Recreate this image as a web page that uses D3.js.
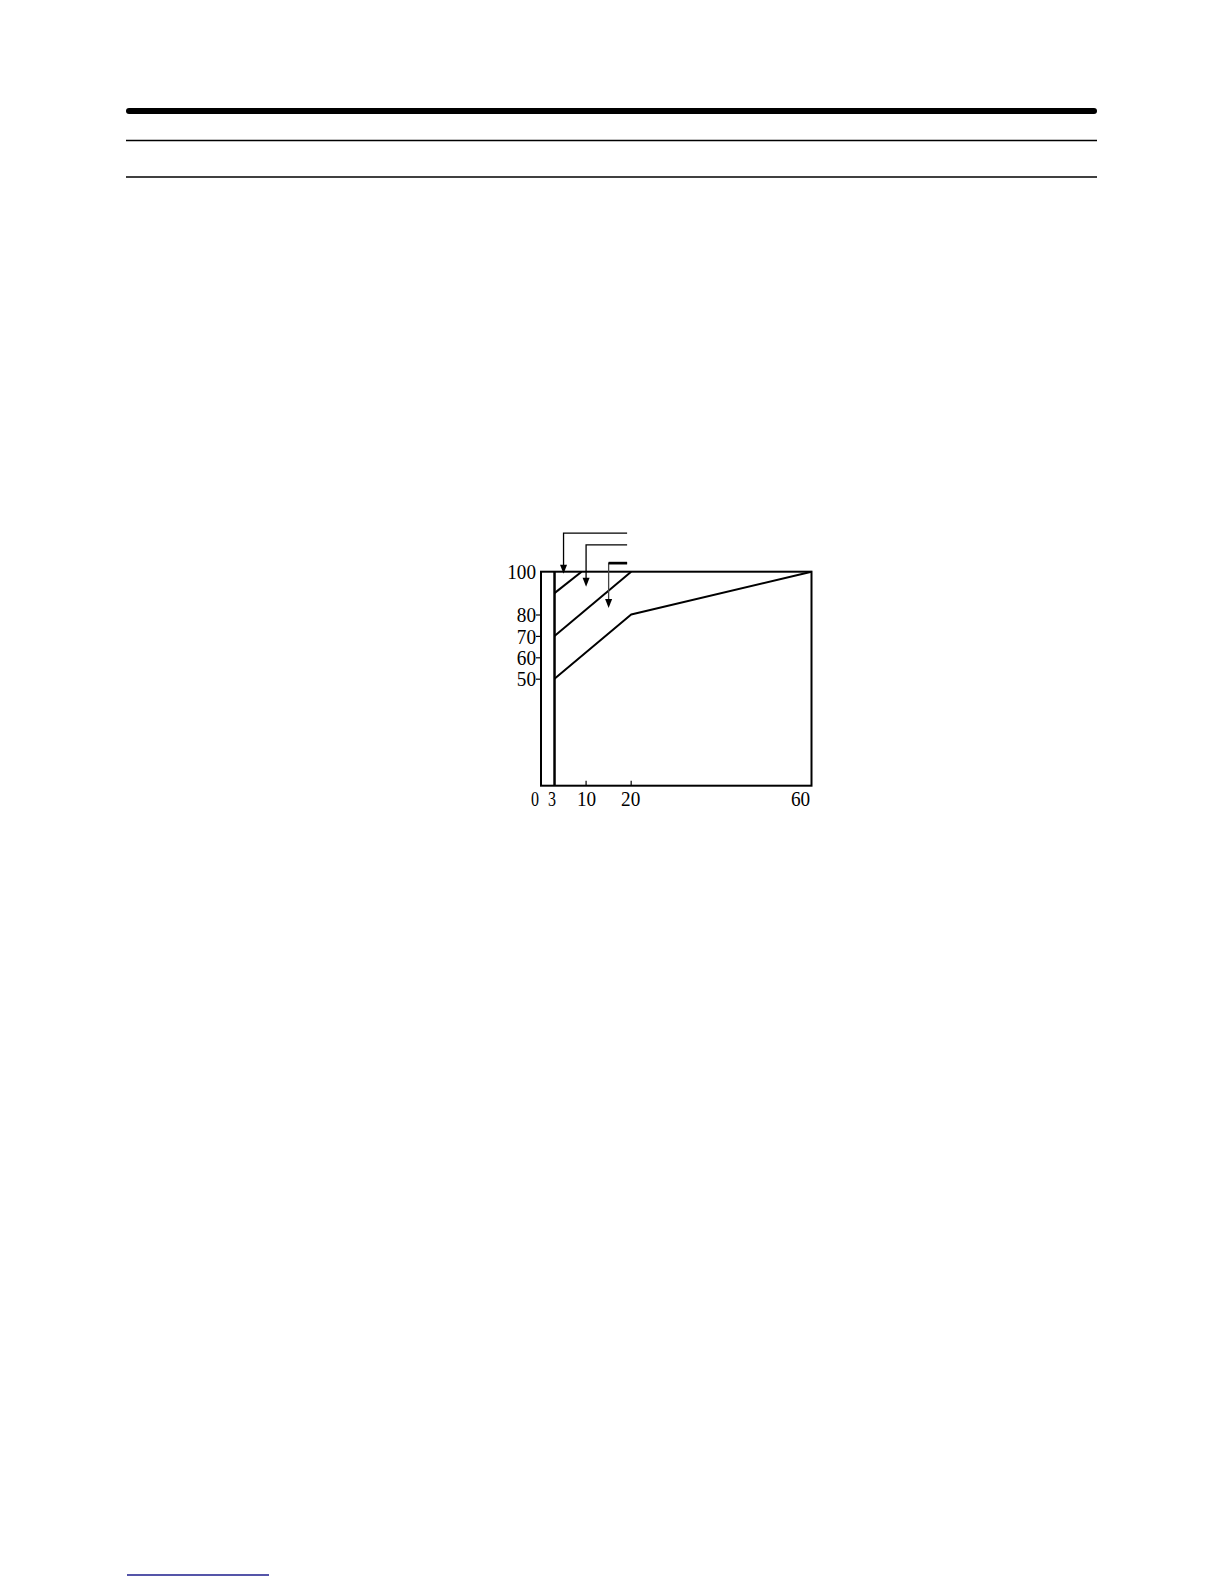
<!DOCTYPE html>
<html>
<head>
<meta charset="utf-8">
<script src="https://cdn.jsdelivr.net/npm/d3@7"></script>
<style>
  html, body { margin: 0; padding: 0; background: #fff; }
  svg text { font-family: "Liberation Serif", "DejaVu Serif", serif; fill: #000; }
</style>
</head>
<body>
<svg id="page" width="1224" height="1584"></svg>
<script>
// values
const xTicks = [0, 3, 10, 20, 60];
const xInnerTicks = [10, 20];
const yTicks = [50, 60, 70, 80, 100];
const startX = 3; // vertical start line
// the three curves (x, y)
const curveTop = [[3, 90], [9, 100]];
const curveMid = [[3, 70], [20, 100]];
const curveLow = [[3, 50], [20, 80], [60, 100]];
// call-out leaders: x of the drop, level of the bar, where the arrow stops
const leaderX = [5, 10, 15];
const leaderLevel = [118, 112.5, 104];
const leaderTip = [99, 93, 83];
const leaderEnd = 19.1;

const DIGIT_W = 9.6; // narrow mincho-like digits

const svg = d3.select("#page");

// page rules (header)
const rules = svg.append("g");
rules.append("line").attr("x1", 129).attr("x2", 1094).attr("y1", 111).attr("y2", 111)
  .attr("stroke", "#000").attr("stroke-width", 6).attr("stroke-linecap", "round");
rules.append("line").attr("x1", 126).attr("x2", 1097).attr("y1", 140.5).attr("y2", 140.5)
  .attr("stroke", "#000").attr("stroke-width", 1.5);
rules.append("line").attr("x1", 126).attr("x2", 1097).attr("y1", 177).attr("y2", 177)
  .attr("stroke", "#000").attr("stroke-width", 1.5);
// footnote rule
rules.append("line").attr("x1", 127).attr("x2", 269).attr("y1", 1575).attr("y2", 1575)
  .attr("stroke", "#1c1c8c").attr("stroke-width", 1.5);

// chart
const x = d3.scaleLinear().domain([0, 60]).range([541, 811.5]);
const y = d3.scaleLinear().domain([0, 100]).range([785.7, 571.7]);

const chart = svg.append("g");

// left axis with short outward ticks
const yAxis = chart.append("g")
  .attr("transform", `translate(${x(0)},0)`)
  .call(d3.axisLeft(y).tickValues(yTicks).tickSize(5).tickPadding(0));
yAxis.select(".domain").remove();
yAxis.selectAll(".tick line").attr("stroke", "#000").attr("stroke-width", 1.2)
  .attr("display", d => d === 100 ? "none" : null);
yAxis.selectAll(".tick text").attr("font-size", 21).attr("font-family", "Liberation Serif")
  .attr("dy", "0.34em")
  .attr("textLength", d => String(d).length * DIGIT_W)
  .attr("lengthAdjust", "spacingAndGlyphs");

// bottom axis labels (0, 3 and 60 sit a little left of their positions)
const xShift = { 0: -6.5, 3: -3, 10: 0, 20: -1, 60: -11.5 };
const xAxis = chart.append("g")
  .attr("transform", `translate(0,${y(0)})`)
  .call(d3.axisBottom(x).tickValues(xTicks).tickSize(0).tickPadding(5));
xAxis.select(".domain").remove();
xAxis.selectAll(".tick text").attr("font-size", 22).attr("font-family", "Liberation Serif")
  .attr("text-anchor", "middle")
  .attr("dx", d => xShift[d])
  .attr("textLength", d => String(d).length * (d < 10 ? 8 : DIGIT_W))
  .attr("lengthAdjust", "spacingAndGlyphs");

// inward ticks at the bottom
chart.selectAll("line.itick").data(xInnerTicks).join("line")
  .attr("class", "itick")
  .attr("x1", d => x(d)).attr("x2", d => x(d))
  .attr("y1", y(0)).attr("y2", y(0) - 5)
  .attr("stroke", "#000").attr("stroke-width", 1.2);

// frame
chart.append("rect")
  .attr("x", x(0)).attr("y", y(100))
  .attr("width", x(60) - x(0)).attr("height", y(0) - y(100))
  .attr("fill", "none").attr("stroke", "#000").attr("stroke-width", 2);

// start line at x = 3
chart.append("line")
  .attr("x1", x(startX)).attr("x2", x(startX))
  .attr("y1", y(100)).attr("y2", y(0))
  .attr("stroke", "#000").attr("stroke-width", 2.5);

// curves
const line = d3.line().x(d => x(d[0])).y(d => y(d[1]));
chart.selectAll("path.curve").data([curveTop, curveMid, curveLow]).join("path")
  .attr("class", "curve")
  .attr("d", line)
  .attr("fill", "none").attr("stroke", "#000").attr("stroke-width", 2)
  .attr("stroke-linejoin", "round");

// call-out leaders with arrows
const leaders = leaderX.map((lx, i) => ({ lx, level: leaderLevel[i], tip: leaderTip[i], i }));
const lg = chart.selectAll("g.leader").data(leaders).join("g").attr("class", "leader");
lg.append("path")
  .attr("d", d => `M${x(leaderEnd)},${y(d.level)}H${x(d.lx)}V${y(d.tip) - 8}`)
  .attr("fill", "none")
  .attr("stroke", d => d.i === 2 ? "#444" : "#000")
  .attr("stroke-width", 1.3);
// thicker stub on the last leader bar
lg.filter(d => d.i === 2).append("line")
  .attr("x1", d => x(d.lx)).attr("x2", x(leaderEnd))
  .attr("y1", d => y(d.level)).attr("y2", d => y(d.level))
  .attr("stroke", "#000").attr("stroke-width", 2.7);
lg.append("path")
  .attr("d", d => `M${x(d.lx) - 3.5},${y(d.tip) - 9}L${x(d.lx) + 3.5},${y(d.tip) - 9}L${x(d.lx)},${y(d.tip)}Z`)
  .attr("fill", "#000");
</script>
</body>
</html>
